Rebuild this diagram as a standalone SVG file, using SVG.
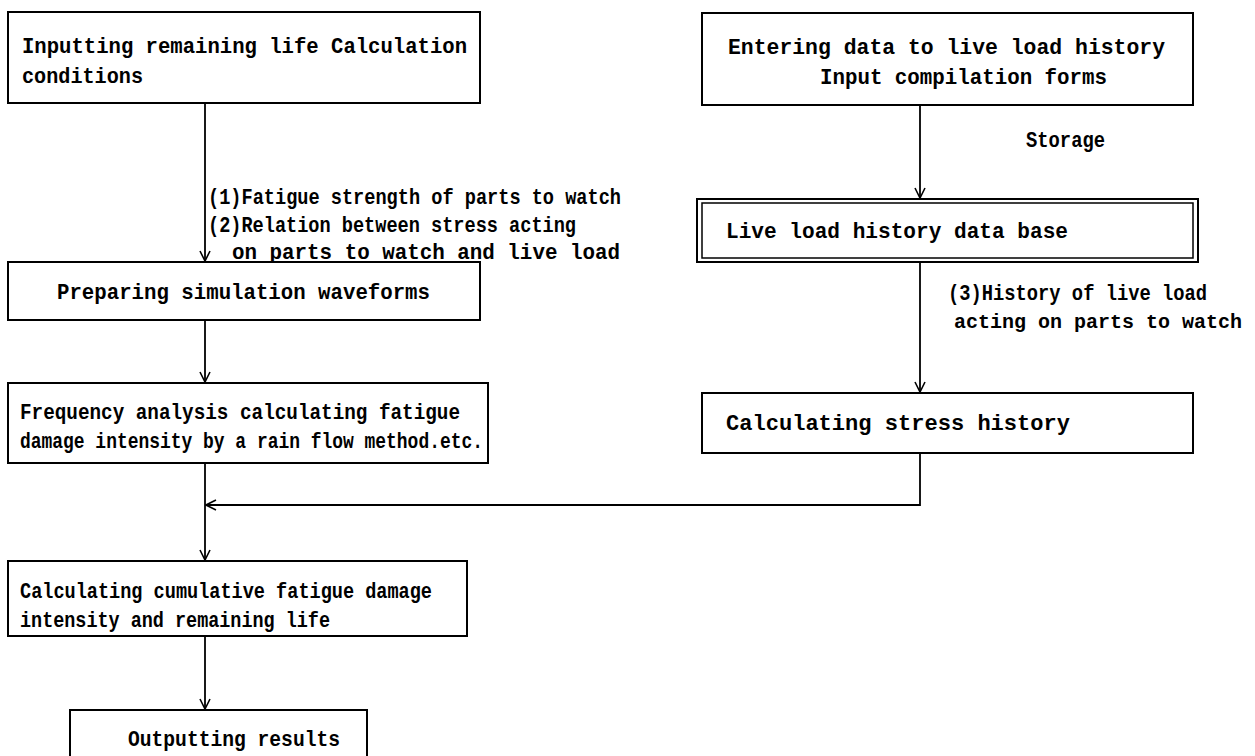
<svg xmlns="http://www.w3.org/2000/svg" width="1255" height="756" viewBox="0 0 1255 756">
<defs>
<style>
.box{fill:#fff;stroke:#000;stroke-width:2}
.t{font-family:"Liberation Mono","DejaVu Sans Mono",monospace;font-weight:bold;font-size:22px;fill:#000}
.c{fill:none;stroke:#000;stroke-width:1.8}
</style>
<marker id="ah" viewBox="0 0 12 12" refX="11" refY="6" markerWidth="12" markerHeight="12" markerUnits="userSpaceOnUse" orient="auto">
<path d="M1,1 L11,6 L1,11" fill="none" stroke="#000" stroke-width="1.6"/>
</marker>
</defs>
<rect width="1255" height="756" fill="#fff"/>
<g id="connectors">
<line class="c" x1="205" y1="103" x2="205" y2="261" marker-end="url(#ah)"/>
<line class="c" x1="205" y1="320" x2="205" y2="382" marker-end="url(#ah)"/>
<line class="c" x1="205" y1="463" x2="205" y2="560" marker-end="url(#ah)"/>
<polyline class="c" points="920,453 920,505 206,505" marker-end="url(#ah)"/>
<line class="c" x1="205" y1="636" x2="205" y2="709" marker-end="url(#ah)"/>
<line class="c" x1="920" y1="105" x2="920" y2="198" marker-end="url(#ah)"/>
<line class="c" x1="920" y1="262" x2="920" y2="392" marker-end="url(#ah)"/>
<text class="t" x="208" y="204" textLength="413" lengthAdjust="spacingAndGlyphs">(1)Fatigue strength of parts to watch</text>
<text class="t" x="208" y="232" textLength="368" lengthAdjust="spacingAndGlyphs">(2)Relation between stress acting</text>
<text class="t" x="232" y="259" textLength="388" lengthAdjust="spacingAndGlyphs">on parts to watch and live load</text>
<text class="t" x="1026" y="147" textLength="79" lengthAdjust="spacingAndGlyphs">Storage</text>
<text class="t" x="948" y="300" textLength="259" lengthAdjust="spacingAndGlyphs">(3)History of live load</text>
<text class="t" x="954" y="328" style="font-size:20px" textLength="288" lengthAdjust="spacingAndGlyphs">acting on parts to watch</text>
</g>
<g id="node-input-conditions">
<rect class="box" x="8" y="12" width="472" height="91"/>
<text class="t" x="22" y="53" textLength="445" lengthAdjust="spacingAndGlyphs">Inputting remaining life Calculation</text>
<text class="t" x="22" y="83" textLength="121" lengthAdjust="spacingAndGlyphs">conditions</text>
</g>
<g id="node-simulation">
<rect class="box" x="8" y="262" width="472" height="58"/>
<text class="t" x="57" y="299" textLength="373" lengthAdjust="spacingAndGlyphs">Preparing simulation waveforms</text>
</g>
<g id="node-frequency">
<rect class="box" x="8" y="383" width="480" height="80"/>
<text class="t" x="20" y="419" textLength="440" lengthAdjust="spacingAndGlyphs">Frequency analysis calculating fatigue</text>
<text class="t" x="20" y="448" textLength="463" lengthAdjust="spacingAndGlyphs">damage intensity by a rain flow method.etc.</text>
</g>
<g id="node-cumulative">
<rect class="box" x="8" y="561" width="459" height="75"/>
<text class="t" x="20" y="598" textLength="412" lengthAdjust="spacingAndGlyphs">Calculating cumulative fatigue damage</text>
<text class="t" x="20" y="627" textLength="310" lengthAdjust="spacingAndGlyphs">intensity and remaining life</text>
</g>
<g id="node-output">
<rect class="box" x="70" y="710" width="297" height="60"/>
<text class="t" x="128" y="746" textLength="212" lengthAdjust="spacingAndGlyphs">Outputting results</text>
</g>
<g id="node-entering">
<rect class="box" x="702" y="13" width="491" height="92"/>
<text class="t" x="728" y="54" textLength="437" lengthAdjust="spacingAndGlyphs">Entering data to live load history</text>
<text class="t" x="820" y="84" textLength="287" lengthAdjust="spacingAndGlyphs">Input compilation forms</text>
</g>
<g id="node-database">
<rect class="box" x="697" y="199" width="501" height="63"/>
<rect x="702" y="203" width="491" height="55" fill="none" stroke="#000" stroke-width="1.5"/>
<text class="t" x="726" y="238" textLength="342" lengthAdjust="spacingAndGlyphs">Live load history data base</text>
</g>
<g id="node-stress">
<rect class="box" x="702" y="393" width="491" height="60"/>
<text class="t" x="726" y="430" textLength="344" lengthAdjust="spacingAndGlyphs">Calculating stress history</text>
</g>
</svg>
